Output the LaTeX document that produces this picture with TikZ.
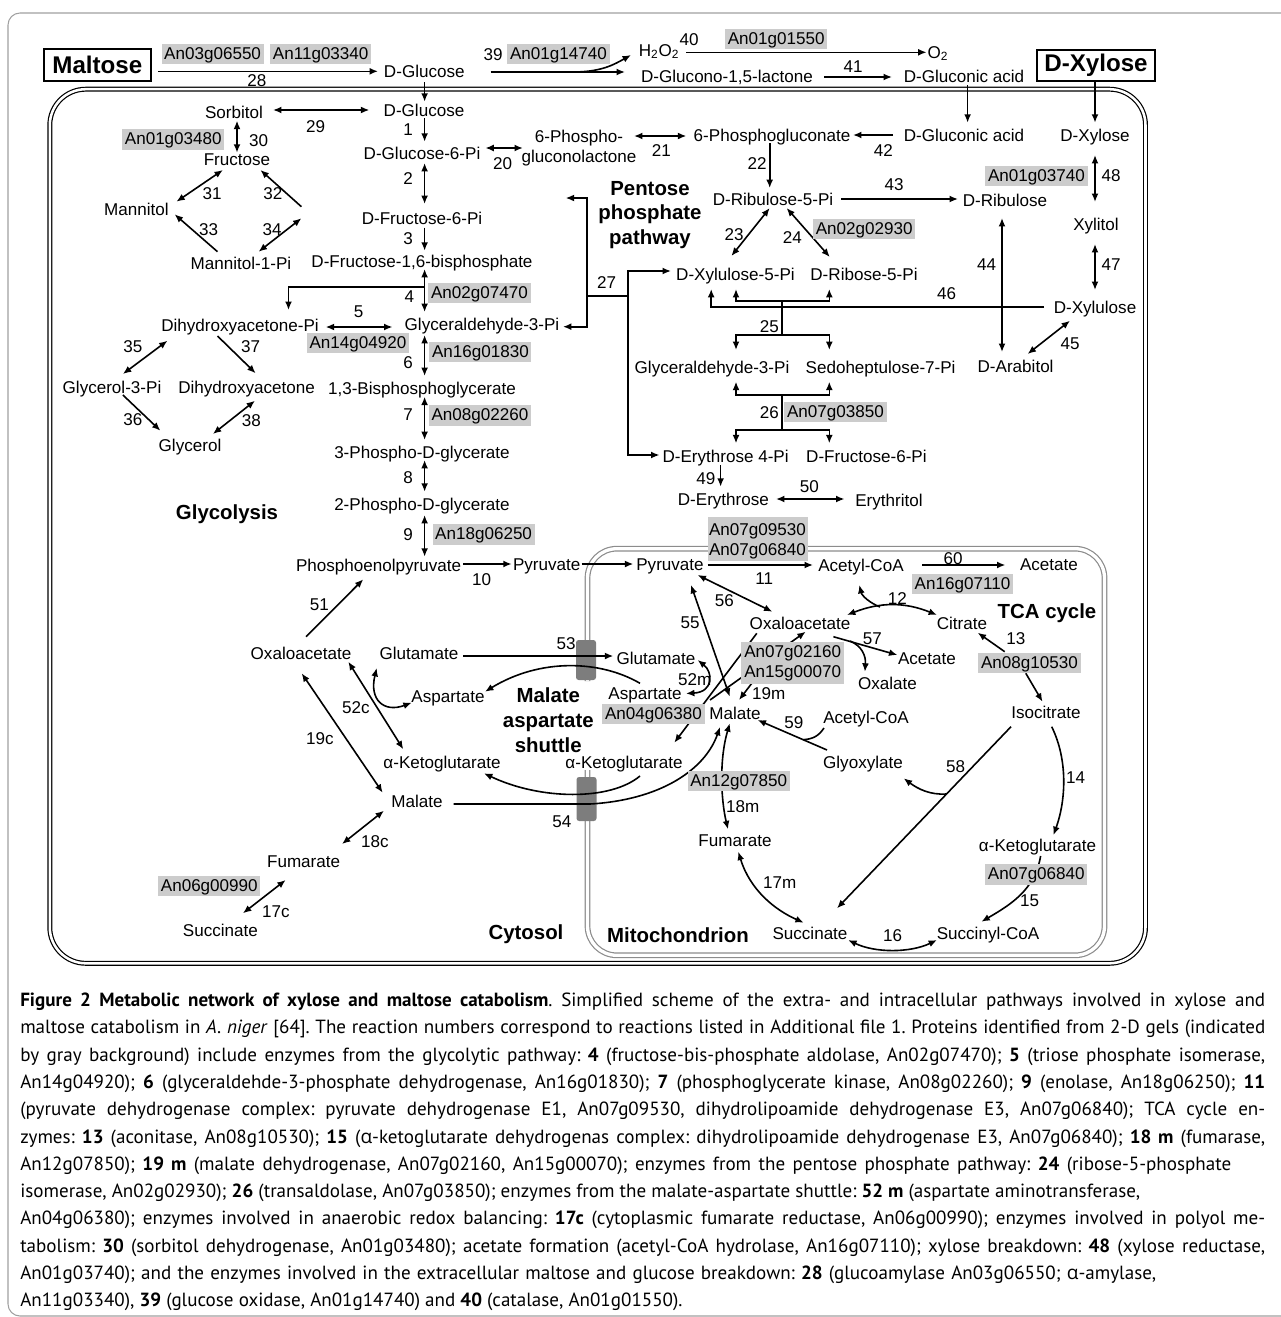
\documentclass[tikz,border=0pt]{standalone}
\usepackage{fontspec}
\setmainfont{Liberation Sans}
\newfontfamily\capfont{PT Sans}
\newfontfamily\alfont{Open Sans}
\usetikzlibrary{arrows.meta}
\definecolor{boxgray}{RGB}{204,204,204}
\definecolor{memgray}{RGB}{140,140,140}
\definecolor{trgray}{RGB}{125,125,125}
\definecolor{framegray}{RGB}{160,160,160}
\newcommand{\dfont}{\fontsize{12.8}{15}\selectfont}
\newcommand{\bfontL}{\fontsize{18.1}{20}\selectfont\bfseries}
\newcommand{\bfontM}{\fontsize{15.3}{18}\selectfont\bfseries}
\newcommand{\cfont}{\capfont\fontsize{14.3}{17}\selectfont\frenchspacing}
\newcommand{\ca}{{\alfont α}}
\begin{document}
\begin{tikzpicture}[x=0.75pt,y=-0.75pt,
  lbl/.style={font=\dfont, inner sep=0pt, text height=9.2pt, text depth=0pt},
  blbl/.style={font=\bfontM, inner sep=0pt, text height=11pt, text depth=0pt},
  gbox/.style={font=\dfont, fill=boxgray, inner xsep=2pt, inner ysep=0pt, text height=11.4pt, text depth=3.9pt},
  gfill/.style={fill=boxgray, inner sep=0pt},
  ltip/.tip={Latex[length=6.3pt,width=5.2pt]},
  arr/.style={-ltip, line width=1.2pt},
  darr/.style={ltip-ltip, line width=1.2pt},
  ln/.style={line width=1.2pt},
  cell/.style={line width=0.9pt, double=white, double distance=1.9pt, rounded corners=27pt},
  memb/.style={draw=memgray, line width=0.9pt, double=white, double distance=2.5pt, rounded corners=22pt},
  capl/.style={anchor=base west, inner sep=0pt, font=\cfont},
  titlebox/.style={draw, line width=1.3pt, inner sep=0pt, font=\bfontL},
]
\useasboundingbox (0,0) rectangle (1281,1317);
\clip (0,0) rectangle (1281,1317);

% frame and compartments
\draw[framegray, line width=0.8pt, rounded corners=9pt] (8,13) rectangle (1300,1316);
\draw[cell] (49.8,89.2) rectangle (1145.5,963.3);
\draw[memb] (587.5,770) -- (587.5,955.3) -- (1104.5,955.3) -- (1104.5,548.7) -- (587.5,548.7) -- (587.5,681);
\fill[trgray, rounded corners=2pt] (576,640) rectangle (596,680);
\fill[trgray, rounded corners=2pt] (576.5,777) rectangle (596.5,821);

% ---------------- connectors ----------------
% extracellular
\draw[arr] (157.9,71.3) -- (378,71.3);
\draw[arr] (424.6,82) -- (424.6,101.7);
\draw[arr] (490.7,72) -- (625,72);
\draw[arr] (573,72) .. controls (602,72) and (615,64) .. (631,55);
\draw[arr] (686,52.3) -- (926.6,52.3);
\draw[arr] (824,77) -- (892,77);
\draw[arr] (967.6,85) -- (967.6,122.7);
\draw[arr] (1095,81) -- (1095,122.7);
% upper cytosol
\draw[darr] (273,110) -- (369.3,110);
\draw[arr] (424.6,118) -- (424.6,141.7);
\draw[darr] (237,120.7) -- (237,152.7);
\draw[darr] (485.4,148) -- (522.9,148);
\draw[darr] (634,136) -- (686.3,136);
\draw[arr] (893,135) -- (853,135);
\draw[arr] (769.7,143) -- (769.7,188);
\draw[darr] (424.6,163) -- (424.6,204);
\draw[darr] (176.4,201.7) -- (222.9,170);
\draw[arr] (301.4,206.7) -- (260.4,170);
\draw[arr] (217.5,251.7) -- (174.6,214.3);
\draw[darr] (301.4,218.3) -- (258.6,251.7);
\draw[arr] (424.6,227.7) -- (424.6,250.7);
\draw[arr] (841.3,199) -- (958,199);
\draw[darr] (1095,155) -- (1095,202);
\draw[darr] (769.7,208) -- (731.4,256);
\draw[darr] (786.6,208) -- (829.8,257);
\draw[darr] (1095,244) -- (1095,290);
\draw[darr] (1002,218) -- (1002,352);
\draw[darr] (424.6,269) -- (424.6,312);
\draw[arr] (424.6,286.7) -- (288.5,286.7) -- (288.5,310);
% pentose phosphate pathway
\draw[darr] (565.7,198) -- (587,198) -- (587,326.7) -- (563,326.7);
\draw[ln] (587,296) -- (628,296);
\draw[darr] (671,271) -- (628,271) -- (628,455) -- (659.5,455);
\draw[arr] (1044,307) -- (711.2,307) -- (711.2,289);
\draw[ln] (782,300.7) -- (782,335);
\draw[darr] (736,289) -- (736,300.7) -- (829.3,300.7) -- (829.3,289);
\draw[darr] (736,350) -- (736,335) -- (829.3,335) -- (829.3,350);
\draw[darr] (736,381.7) -- (736,395) -- (829.3,395) -- (829.3,381.7);
\draw[ln] (782,395) -- (782,430);
\draw[darr] (736,443.3) -- (736,430) -- (829.3,430) -- (829.3,443.3);
\draw[darr] (1070,320.7) -- (1027.6,354);
\draw[arr] (720.6,465) -- (720.6,486.7);
\draw[darr] (776,499) -- (844.5,499);
% glycolysis lower
\draw[darr] (325.7,327) -- (392.5,327);
\draw[darr] (424.6,335) -- (424.6,376);
\draw[darr] (424.6,396.7) -- (424.6,440);
\draw[darr] (424.6,460) -- (424.6,491.7);
\draw[darr] (424.6,515) -- (424.6,556.7);
\draw[darr] (167.5,340.7) -- (122.9,374);
\draw[arr] (217.5,336) -- (255.7,373.3);
\draw[arr] (122.9,395) -- (160.4,430.7);
\draw[darr] (255,400.7) -- (212.9,434);
\draw[arr] (463.3,564) -- (511.7,564);
\draw[arr] (581.7,564) -- (633.3,564);
\draw[arr] (306,636.7) -- (363.3,579.3);
% shuttle
\draw[arr] (463.3,656) -- (613.3,656);
\draw[arr] (640,683.3) .. controls (600,660) and (540,658) .. (485,691.7);
\draw[darr] (348.3,661.7) -- (403.3,749.3);
\draw[darr] (376.7,668) .. controls (369,700) and (384,713) .. (411.7,702.7);
\draw[darr] (301.7,673.3) -- (382.7,792.7);
\draw[arr] (640,776) .. controls (610,801) and (540,800) .. (484,773.3);
\draw[arr] (453.6,804) -- (590,804) .. controls (660,800) and (705,770) .. (720,727);
\draw[darr] (384,810.7) -- (342,844);
\draw[darr] (285.7,880) -- (242.9,913.3);
% mitochondrion
\draw[arr] (707.6,565) -- (813,565);
\draw[arr] (922.2,565) -- (1005.4,565);
\draw[darr] (697.6,575) -- (772.4,611.7);
\draw[darr] (691,585) -- (729.8,696.7);
\draw[arr] (880,607) .. controls (870,603) and (862,596) .. (859.3,585);
\draw[darr] (847,615) .. controls (880,602) and (905,602) .. (937,615);
\draw[arr] (1004.7,651.7) -- (977.7,632.7);
\draw[arr] (1025.8,673.3) -- (1042.5,701.7);
\draw[arr] (833.4,636.7) -- (897.4,655);
\draw[arr] (850,641) .. controls (862,646) and (866,656) .. (864.9,671.7);
\draw[arr] (756.8,633.3) -- (674.3,742.7);
\draw[arr] (710,700) -- (805.7,631.7);
\draw[darr] (697.6,660) .. controls (713,672) and (714,692) .. (686,693.5);
\draw[arr] (752,683) -- (739,700);
\draw[arr] (827,750) -- (757.6,720);
\draw[ln] (824,728) .. controls (818,737) and (812,739) .. (803,739.7);
\draw[arr] (1011,726.7) -- (837,908.3);
\draw[arr] (946.3,794) .. controls (930,795) and (918,789) .. (903.7,778.3);
\draw[arr] (1051.7,726.7) .. controls (1068,760) and (1066,800) .. (1053.5,835);
\draw[arr] (1040.6,856) .. controls (1035,890) and (1010,905) .. (981.4,921.7);
\draw[darr] (848.2,940) .. controls (875,953) and (910,953) .. (937,940);
\draw[darr] (729.8,723.3) .. controls (719,760) and (721,800) .. (728,829.3);
\draw[darr] (738.3,851.7) .. controls (750,890) and (775,910) .. (803.8,922.7);

% ---------------- gray enzyme boxes ----------------
\node[gbox] (g06550) at (212.6,54.1) {An03g06550};
\node[gbox] (g03340) at (320.7,54.1) {An11g03340};
\node[gbox] (g14740) at (558.5,54) {An01g14740};
\node[gbox] (g01550) at (776.2,39) {An01g01550};
\node[gbox] (g03480) at (173.3,139.5) {An01g03480};
\node[gbox] (g07470) at (479.5,293) {An02g07470};
\node[gbox] (g04920) at (357.9,343) {An14g04920};
\node[gbox] (g01830) at (480.4,352) {An16g01830};
\node[gbox] (g02260) at (480,415.5) {An08g02260};
\node[gbox] (g06250) at (483.6,534.5) {An18g06250};
\node[gbox] (g02930) at (864.2,229) {An02g02930};
\node[gbox] (g03740) at (1036.5,176) {An01g03740};
\node[gbox] (g03850) at (835.5,412) {An07g03850};
\node[gbox] (g07110) at (962.5,584) {An16g07110};
\node[gbox] (g10530) at (1029.5,663) {An08g10530};
\node[gbox] (g06380) at (653.5,714) {An04g06380};
\node[gbox] (g07850) at (738.7,781) {An12g07850};
\node[gbox] (g06840b) at (1036.3,874.5) {An07g06840};
\node[gbox] (g00990) at (209.3,886) {An06g00990};
\node[gfill, minimum width=75pt, minimum height=33pt] (g09530) at (757.5,539) {};
\node[lbl] (g09530a) at (757.5,529.5) {An07g09530};
\node[lbl] (g09530b) at (757.5,549.5) {An07g06840};
\node[gfill, minimum width=77.6pt, minimum height=31.7pt] (g02160) at (792.7,662.9) {};
\node[lbl] (g02160a) at (792.7,651) {An07g02160};
\node[lbl] (g02160b) at (792.7,671.5) {An15g00070};

% ---------------- metabolites ----------------
\node[titlebox, minimum width=80pt, minimum height=24pt] (maltose) at (97.4,65) {Maltose};
\node[titlebox, minimum width=89pt, minimum height=23.3pt] (xylbox) at (1096,65.5) {D-Xylose};
\node[lbl] (glcout) at (424.3,71) {D-Glucose};
\node[lbl] (h2o2) at (659,50) {H\textsubscript{2}O\textsubscript{2}};
\node[lbl] (o2) at (938,52) {O\textsubscript{2}};
\node[lbl] (glcnl) at (727,76) {D-Glucono-1,5-lactone};
\node[lbl] (glcaout) at (964,76) {D-Gluconic acid};

\node[lbl] (glc) at (424,110) {D-Glucose};
\node[lbl] (sorb) at (234,112) {Sorbitol};
\node[lbl] (fru) at (237,159) {Fructose};
\node[lbl] (mtl) at (136.4,209) {Mannitol};
\node[lbl] (mtl1p) at (241,263) {Mannitol-1-Pi};
\node[lbl] (g6p) at (422,153) {D-Glucose-6-Pi};
\node[lbl] (pgl1) at (579,136) {6-Phospho-};
\node[lbl] (pgl2) at (579,156) {gluconolactone};
\node[lbl] (pgc) at (772,135) {6-Phosphogluconate};
\node[lbl] (glca) at (964,135) {D-Gluconic acid};
\node[lbl] (xyl) at (1095,135) {D-Xylose};
\node[lbl] (f6p) at (422,218) {D-Fructose-6-Pi};
\node[lbl] (fbp) at (422,261) {D-Fructose-1,6-bisphosphate};
\node[lbl] (dhap) at (240,325) {Dihydroxyacetone-Pi};
\node[lbl] (gap) at (482,324) {Glyceraldehyde-3-Pi};
\node[lbl] (g3p) at (112,387) {Glycerol-3-Pi};
\node[lbl] (dha) at (246.6,387) {Dihydroxyacetone};
\node[lbl] (glyc) at (190,445) {Glycerol};
\node[lbl] (bpg) at (422,388) {1,3-Bisphosphoglycerate};
\node[lbl] (pg3) at (422,452) {3-Phospho-D-glycerate};
\node[lbl] (pg2) at (422,504) {2-Phospho-D-glycerate};
\node[lbl] (pep) at (378.6,565) {Phosphoenolpyruvate};
\node[lbl] (pyrc) at (546.7,564) {Pyruvate};
\node[lbl] (ru5p) at (773,199) {D-Ribulose-5-Pi};
\node[lbl] (rul) at (1005,200) {D-Ribulose};
\node[lbl] (xlt) at (1096,224) {Xylitol};
\node[lbl] (xul) at (1095,307) {D-Xylulose};
\node[lbl] (xu5p) at (735.5,274) {D-Xylulose-5-Pi};
\node[lbl] (r5p) at (864,274) {D-Ribose-5-Pi};
\node[lbl] (gap2) at (712,367) {Glyceraldehyde-3-Pi};
\node[lbl] (s7p) at (880.6,367) {Sedoheptulose-7-Pi};
\node[lbl] (arab) at (1015.6,366) {D-Arabitol};
\node[lbl] (e4p) at (725.6,456) {D-Erythrose 4-Pi};
\node[lbl] (f6p2) at (866.4,456) {D-Fructose-6-Pi};
\node[lbl] (ery) at (723.4,499) {D-Erythrose};
\node[lbl] (eryt) at (889,500) {Erythritol};
\node[lbl] (oaac) at (301,653) {Oxaloacetate};
\node[lbl] (gluc) at (419,653) {Glutamate};
\node[lbl] (aspc) at (448,696) {Aspartate};
\node[lbl] (akgc) at (442,762) {α-Ketoglutarate};
\node[lbl] (malc) at (417,801) {Malate};
\node[lbl] (fumc) at (303.6,861) {Fumarate};
\node[lbl] (sucVc) at (220.4,930) {Succinate};
\node[lbl] (akgm1) at (624,762) {α-Ketoglutarate};
\node[lbl] (pyrm) at (670,564) {Pyruvate};
\node[lbl] (accoa) at (861,565) {Acetyl-CoA};
\node[lbl] (ac1) at (1049,564) {Acetate};
\node[lbl] (oaam) at (800,623) {Oxaloacetate};
\node[lbl] (cit) at (962,623) {Citrate};
\node[lbl] (glum) at (656,658) {Glutamate};
\node[lbl] (aspm) at (645,693) {Aspartate};
\node[lbl] (ac2) at (927,658) {Acetate};
\node[lbl] (oxl) at (887.5,683) {Oxalate};
\node[lbl] (malm) at (735,713) {Malate};
\node[lbl] (accoa2) at (866,717) {Acetyl-CoA};
\node[lbl] (icit) at (1046,712) {Isocitrate};
\node[lbl] (glx) at (863,762) {Glyoxylate};
\node[lbl] (fumm) at (735,840) {Fumarate};
\node[lbl] (akgm) at (1037.5,845) {α-Ketoglutarate};
\node[lbl] (sucm) at (810,933) {Succinate};
\node[lbl] (succoa) at (988,933) {Succinyl-CoA};

% ---------------- bold region labels ----------------
\node[blbl] (tglyc) at (227,512) {Glycolysis};
\node[blbl] (tppp1) at (650,188) {Pentose};
\node[blbl] (tppp2) at (650,212.5) {phosphate};
\node[blbl] (tppp3) at (650,237) {pathway};
\node[blbl] (tmas1) at (548.3,695) {Malate};
\node[blbl] (tmas2) at (548.3,720) {aspartate};
\node[blbl] (tmas3) at (548.3,745) {shuttle};
\node[blbl] (ttca) at (1047,611) {TCA cycle};
\node[blbl] (tcyt) at (526,932) {Cytosol};
\node[blbl] (tmit) at (678,935) {Mitochondrion};

% ---------------- reaction numbers ----------------
\node[lbl] (n28) at (256.8,80) {28};
\node[lbl] (n39) at (493,54) {39};
\node[lbl] (n40) at (689,39) {40};
\node[lbl] (n41) at (853,66) {41};
\node[lbl] (n29) at (315.7,126) {29};
\node[lbl] (n1) at (408,129) {1};
\node[lbl] (n30) at (258.6,140) {30};
\node[lbl] (n20) at (502.5,163) {20};
\node[lbl] (n21) at (661.4,150) {21};
\node[lbl] (n42) at (883.4,150) {42};
\node[lbl] (n22) at (757,163) {22};
\node[lbl] (n48) at (1111,175) {48};
\node[lbl] (n2) at (408,178) {2};
\node[lbl] (n43) at (894,184) {43};
\node[lbl] (n31) at (212,193) {31};
\node[lbl] (n32) at (272.9,193) {32};
\node[lbl] (n33) at (208.6,229) {33};
\node[lbl] (n34) at (272,229) {34};
\node[lbl] (n3) at (408,238) {3};
\node[lbl] (n23) at (734,234) {23};
\node[lbl] (n24) at (792.3,237) {24};
\node[lbl] (n44) at (986.7,264) {44};
\node[lbl] (n47) at (1111,264) {47};
\node[lbl] (n27) at (606.5,282) {27};
\node[lbl] (n46) at (946.5,293) {46};
\node[lbl] (n4) at (409.3,296) {4};
\node[lbl] (n5) at (358.6,311) {5};
\node[lbl] (n25) at (769.4,326) {25};
\node[lbl] (n35) at (132.9,346) {35};
\node[lbl] (n37) at (250.7,346) {37};
\node[lbl] (n45) at (1070,343) {45};
\node[lbl] (n6) at (408,362) {6};
\node[lbl] (n7) at (408,414) {7};
\node[lbl] (n26) at (769.4,412) {26};
\node[lbl] (n36) at (132.9,419) {36};
\node[lbl] (n38) at (251.4,420) {38};
\node[lbl] (n8) at (408,477) {8};
\node[lbl] (n49) at (705.8,478) {49};
\node[lbl] (n50) at (809.4,486) {50};
\node[lbl] (n9) at (408,534) {9};
\node[lbl] (n60) at (953,558) {60};
\node[lbl] (n10) at (481.7,579) {10};
\node[lbl] (n11) at (764.2,578) {11};
\node[lbl] (n12) at (897.4,598) {12};
\node[lbl] (n56) at (724.3,600) {56};
\node[lbl] (n51) at (319.3,604) {51};
\node[lbl] (n55) at (690.2,622) {55};
\node[lbl] (n13) at (1015.8,638) {13};
\node[lbl] (n57) at (872.3,638) {57};
\node[lbl] (n53) at (566,643) {53};
\node[lbl] (n52m) at (694.7,679) {52m};
\node[lbl] (n19m) at (768.7,693) {19m};
\node[lbl] (n52c) at (356,707) {52c};
\node[lbl] (n59) at (793.8,722) {59};
\node[lbl] (n19c) at (320,738) {19c};
\node[lbl] (n58) at (955.5,766) {58};
\node[lbl] (n14) at (1075.7,777) {14};
\node[lbl] (n18m) at (742.8,806) {18m};
\node[lbl] (n54) at (561.8,821) {54};
\node[lbl] (n18c) at (375,841) {18c};
\node[lbl] (n17m) at (779.8,882) {17m};
\node[lbl] (n15) at (1029.5,900) {15};
\node[lbl] (n17c) at (276,911) {17c};
\node[lbl] (n16) at (892.6,935) {16};

% ---------------- caption ----------------
\node[capl] (c1) at (20,1006.5) {\hbox to 933.75pt{\textbf{Figure 2 Metabolic network of xylose and maltose catabolism}. Simplified scheme of the extra- and intracellular pathways involved in xylose and}};
\node[capl] (c2) at (20,1033.8) {\hbox to 933.75pt{maltose catabolism in \textit{A. niger} [64]. The reaction numbers correspond to reactions listed in Additional file 1. Proteins identified from 2-D gels (indicated}};
\node[capl] (c3) at (20,1061.1) {\hbox to 933.75pt{by gray background) include enzymes from the glycolytic pathway: \textbf{4} (fructose-bis-phosphate aldolase, An02g07470); \textbf{5} (triose phosphate isomerase,}};
\node[capl] (c4) at (20,1088.4) {\hbox to 933.75pt{An14g04920); \textbf{6} (glyceraldehde-3-phosphate dehydrogenase, An16g01830); \textbf{7} (phosphoglycerate kinase, An08g02260); \textbf{9} (enolase, An18g06250); \textbf{11}}};
\node[capl] (c5) at (20,1115.7) {\hbox to 933.75pt{(pyruvate dehydrogenase complex: pyruvate dehydrogenase E1, An07g09530, dihydrolipoamide dehydrogenase E3, An07g06840); TCA cycle en-}};
\node[capl] (c6) at (20,1143) {\hbox to 933.75pt{zymes: \textbf{13} (aconitase, An08g10530); \textbf{15} (\ca-ketoglutarate dehydrogenas complex: dihydrolipoamide dehydrogenase E3, An07g06840); \textbf{18 m} (fumarase,}};
\node[capl] (c7) at (20,1170.3) {\hbox to 908.25pt{An12g07850); \textbf{19 m} (malate dehydrogenase, An07g02160, An15g00070); enzymes from the pentose phosphate pathway: \textbf{24} (ribose-5-phosphate}};
\node[capl] (c8) at (20,1197.6) {\hbox to 840pt{isomerase, An02g02930); \textbf{26} (transaldolase, An07g03850); enzymes from the malate-aspartate shuttle: \textbf{52 m} (aspartate aminotransferase,}};
\node[capl] (c9) at (20,1224.9) {\hbox to 933.75pt{An04g06380); enzymes involved in anaerobic redox balancing: \textbf{17c} (cytoplasmic fumarate reductase, An06g00990); enzymes involved in polyol me-}};
\node[capl] (c10) at (20,1252.2) {\hbox to 933.75pt{tabolism: \textbf{30} (sorbitol dehydrogenase, An01g03480); acetate formation (acetyl-CoA hydrolase, An16g07110); xylose breakdown: \textbf{48} (xylose reductase,}};
\node[capl] (c11) at (20,1279.5) {\hbox to 852pt{An01g03740); and the enzymes involved in the extracellular maltose and glucose breakdown: \textbf{28} (glucoamylase An03g06550; \ca-amylase,}};
\node[capl] (c12) at (20,1306.8) {An11g03340), \textbf{39} (glucose oxidase, An01g14740) and \textbf{40} (catalase, An01g01550).};
\end{tikzpicture}
\end{document}
